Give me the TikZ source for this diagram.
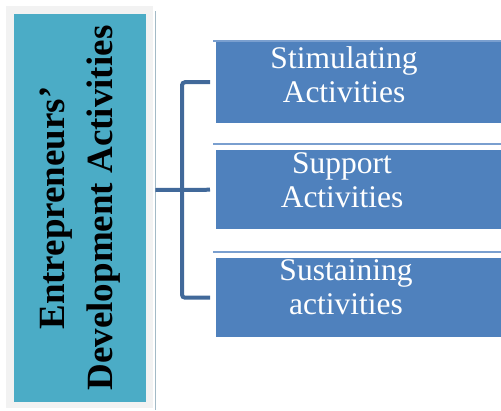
\documentclass[tikz,border=0pt]{standalone}
\usepackage{fontspec}
\setmainfont{Liberation Serif}
\usepackage{tikz}
\usetikzlibrary{positioning}
\definecolor{framegray}{HTML}{F2F2F2}
\definecolor{devteal}{HTML}{4BACC6}
\definecolor{actblue}{HTML}{4F81BD}
\definecolor{linkblue}{HTML}{41699A}
\definecolor{edgegray}{HTML}{A3BAC6}
\definecolor{ruleblue}{HTML}{7A9FCF}
\tikzset{
    actbox/.style={fill=actblue, anchor=north west, inner sep=0pt, minimum width=285pt, minimum height=82pt},
    acttext/.style={anchor=north, inner sep=0pt, align=center, text=white, font=\fontsize{31.5}{34}\selectfont},
    link/.style={draw=linkblue, line width=4pt},
    rule/.style={draw=ruleblue, line width=1.2pt}
}

\begin{document}
\begin{tikzpicture}[x=1pt, y=-1pt]
    \clip (0,0) rectangle (501,410);
    % left block
    \node[fill=framegray, anchor=north west, inner sep=0pt, minimum width=147pt, minimum height=402pt] (frame) at (6,6) {};
    \node[fill=devteal, rotate=90, inner sep=0pt, minimum width=388pt, minimum height=132pt, align=center,
          font=\bfseries\fontsize{37}{48}\selectfont] (dev) at (80,208) {Entrepreneurs’\\Development  Activities};
    \draw[draw=edgegray, line width=1.5pt] (155.5,11) -- (155.5,410);
    % activity boxes
    \node[actbox] (stim) at (216,41) {};
    \node[actbox, minimum height=79pt] (supp) at (216,150) {};
    \node[actbox, minimum height=79pt] (sust) at (216,258) {};
    \draw[rule] ([xshift=-3pt]stim.north west) -- (stim.north east);
    \draw[rule] ([xshift=-3pt,yshift=6pt]supp.north west) -- ([yshift=6pt]supp.north east);
    \draw[rule] ([xshift=-3pt,yshift=6pt]sust.north west) -- ([yshift=6pt]sust.north east);
    \node[acttext] (stimtext) at (344,46) {Stimulating\\Activities};
    \node[acttext] (supptext) at (342,152) {Support\\Activities};
    \node[acttext] (susttext) at (346,259) {Sustaining\\activities};
    % bracket
    \coordinate (hub) at (182,190);
    \draw[link, shorten >=6pt] ([xshift=2pt]frame.east |- hub) -- (supp.west);
    \draw[link, rounded corners=3pt, shorten <=6pt, shorten >=6pt] (stim.west) -| (hub) |- (sust.west);
\end{tikzpicture}
\end{document}
